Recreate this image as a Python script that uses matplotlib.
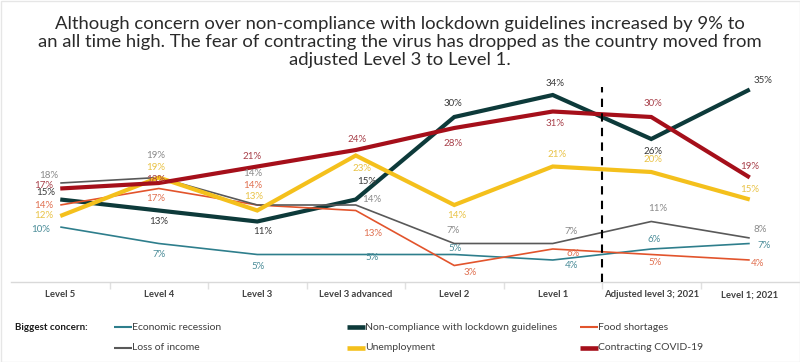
import matplotlib
matplotlib.use("Agg")
import matplotlib.pyplot as plt
from matplotlib.lines import Line2D
from matplotlib.patches import Rectangle

# ---------------- data ----------------
categories = ["Level 5", "Level 4", "Level 3", "Level 3 advanced", "Level 2",
              "Level 1", "Adjusted level 3; 2021", "Level 1; 2021"]

economic_recession = [10, 7, 5, 5, 5, 4, 6, 7]
non_compliance = [15, 13, 11, 15, 30, 34, 26, 35]
food_shortages = [14, 17, 14, 13, 3, 6, 5, 4]
loss_of_income = [18, 19, 14, 14, 7, 7, 11, 8]
unemployment = [12, 19, 13, 23, 14, 21, 20, 15]
contracting_covid = [17, 18, 21, 24, 28, 31, 30, 19]

series_names = ["Economic recession", "Non-compliance with lockdown guidelines",
                "Food shortages", "Loss of income", "Unemployment",
                "Contracting COVID-19"]

title = ("Although concern over non-compliance with lockdown guidelines increased by 9% to\n"
         "an all time high. The fear of contracting the virus has dropped as the country moved from\n"
         "adjusted Level 3 to Level 1.")

# ---------------- styles ----------------
line_colors = ["#2E7E8C", "#0D3A3A", "#E2542C", "#595959", "#F4C01C", "#A50F1A"]
label_colors = ["#4A8C98", "#3A3A3A", "#E07050", "#8A8A8A", "#E9C347", "#A8404A"]
line_widths = [1.2, 3.0, 1.2, 1.2, 3.0, 3.0]

# label offsets in pixels (dx, dy) for each point
offsets = [
    [(-20, -2), (0, -11), (1, -12), (16, -3), (1, 6), (19, -6), (3, 9), (14, -2)],
    [(-15, 7), (0, -11), (5, -10), (11, 18), (-1, 13), (2, 11), (2, -12), (13, 9)],
    [(-17, 0), (-3, -10), (-5, 20), (17, -23), (16, -7), (20, -5), (4, -8), (8, -4)],
    [(-12, 8), (-3, 22), (-5, 31), (16, 6), (-1, 13), (18, 12), (6, 13), (10, 9)],
    [(-17, 1), (-3, 10), (-4, 14), (6, -13), (2, -11), (4, 12), (2, 12), (0, 10)],
    [(-17, 3), (-3, 4), (-5, 10), (1, 11), (-1, -16), (2, -12), (2, 13), (0, 11)],
]

all_series = [economic_recession, non_compliance, food_shortages,
              loss_of_income, unemployment, contracting_covid]
draw_order = [0, 3, 2, 4, 1, 5]

W, H = 800, 362
fig = plt.figure(figsize=(W / 100, H / 100), dpi=100)
fig.patch.set_facecolor("white")

ax_left, ax_right, ax_bottom, ax_top = 11, 799, 282, 72
ax = fig.add_axes([ax_left / W, (H - ax_bottom) / H,
                   (ax_right - ax_left) / W, (ax_bottom - ax_top) / H])
px_per_unit = 5.5
ax.set_xlim(-0.5, len(categories) - 0.5)
ax.set_ylim(0, (ax_bottom - ax_top) / px_per_unit)

x = list(range(len(categories)))
for k in draw_order:
    ax.plot(x, all_series[k], color=line_colors[k], lw=line_widths[k],
            solid_capstyle="butt", solid_joinstyle="miter", zorder=3 + k * 0.1)

for k in range(len(all_series)):
    for i, v in enumerate(all_series[k]):
        ax.annotate(f"{v}%", (i, v), xytext=offsets[k][i], textcoords="offset pixels",
                    ha="center", va="center", fontsize=7, color=label_colors[k],
                    family="Lato", zorder=6)

# dashed separator between Level 1 and Adjusted level 3
ax.plot([5.5, 5.5], [0, 35.5], color="black", lw=1.5, ls=(0, (4, 3)), zorder=5)

# axes styling
for s in ["top", "right", "left"]:
    ax.spines[s].set_visible(False)
ax.spines["bottom"].set_color("#D9D9D9")
ax.spines["bottom"].set_linewidth(1)
ax.set_yticks([])
ax.set_xticks(x)
ax.set_xticklabels(categories, fontsize=6.8, fontweight="bold", color="#404040",
                   family="Lato")
ax.tick_params(axis="x", which="major", length=0, pad=6)
ax.set_xticks([i + 0.5 for i in range(len(categories) - 1)], minor=True)
ax.tick_params(axis="x", which="minor", length=5, color="#E0E0E0", width=1)

# title
fig.text(0.5, 1 - 42 / H, title, ha="center", va="center", fontsize=13.3,
         color="#2A2A2A", family="Lato", fontweight="normal", linespacing=1.15)

# legend (manual)
fig.text(15 / W, 1 - 327 / H, "Biggest concern:", ha="left", va="center",
         fontsize=7, fontweight="bold", color="#1A1A1A", family="Lato")
col_x = [114, 347, 580]
row_y = [327, 348]
legend_pos = {0: (0, 0), 1: (1, 0), 2: (2, 0), 3: (0, 1), 4: (1, 1), 5: (2, 1)}
for k, (c, r) in legend_pos.items():
    x0 = col_x[c]
    y0 = 1 - row_y[r] / H
    fig.add_artist(Line2D([x0 / W, (x0 + 18) / W], [y0, y0], color=line_colors[k],
                          lw=line_widths[k] + 0.3, solid_capstyle="butt"))
    fig.text((x0 + 18) / W, y0, series_names[k], ha="left", va="center",
             fontsize=7.5, color="#404040", family="Lato")

# faint frame
fig.add_artist(Rectangle((0.5 / W, 0.5 / H), (W - 1) / W, (H - 1) / H,
                         transform=fig.transFigure, fill=False,
                         edgecolor="#E6E6E6", lw=1))

fig.savefig("out.png", dpi=100)
